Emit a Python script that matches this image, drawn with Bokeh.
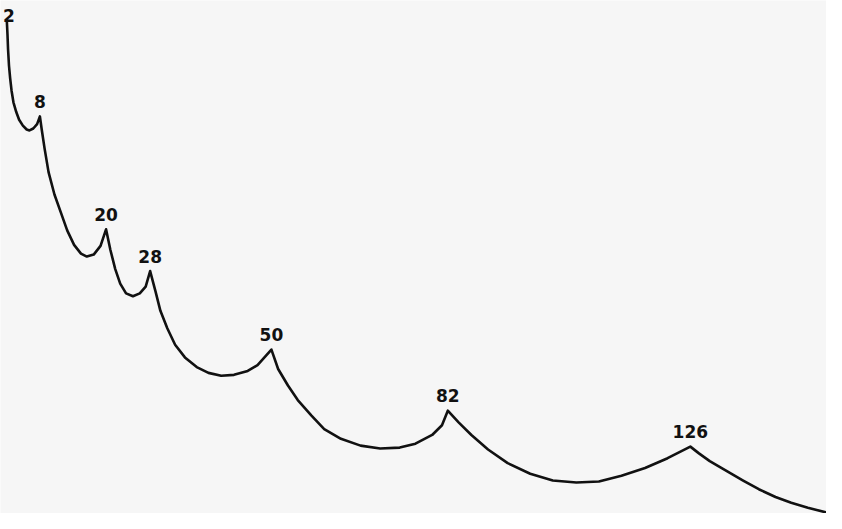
from bokeh.plotting import figure
from bokeh.models import Range1d, ColumnDataSource
from bokeh.core.properties import value
from bokeh.embed import file_html
from bokeh.resources import INLINE

# Neutron number (x) and relative quantity (y, arbitrary units)
neutron_number = [
    # 2 -> 8
    2.00, 2.12, 2.22, 2.39, 2.60, 2.86, 3.20, 3.71, 4.23, 4.91, 5.60, 6.11, 6.80, 7.49, 8,
    # 8 -> 20
    8.33, 8.86, 9.57, 10.64, 11.89, 12.95, 14.20, 15.45, 16.51, 17.76, 19.00, 20,
    # 20 -> 28
    20.78, 21.67, 22.57, 23.63, 24.88, 26.12, 27.19, 28,
    # 28 -> 50
    28.97, 29.86, 31.11, 32.53, 34.31, 36.45, 38.58, 40.89, 43.21, 45.70, 47.48, 48.90, 50,
    # 50 -> 82
    51.22, 53.00, 54.78, 57.27, 59.58, 62.61, 66.17, 69.73, 73.28, 76.13, 79.16, 80.94, 82,
    # 82 -> 126
    83.96, 86.28, 89.30, 92.86, 96.95, 101.05, 105.32, 109.41, 113.50, 117.78, 121.87, 126,
    # beyond 126
    127.56, 129.52, 132.55, 135.58, 138.42, 141.45, 144.30, 147.32, 150.70, 151.0,
]
energy = [
    9.603, 9.338, 9.055, 8.733, 8.488, 8.242, 8.015, 7.826, 7.675, 7.561, 7.486, 7.467, 7.505, 7.590, 7.741,
    7.486, 7.108, 6.654, 6.219, 5.841, 5.520, 5.236, 5.066, 5.009, 5.047, 5.217, 5.539,
    5.142, 4.764, 4.480, 4.291, 4.234, 4.291, 4.423, 4.726,
    4.329, 3.951, 3.611, 3.289, 3.043, 2.854, 2.741, 2.684, 2.703, 2.779, 2.892, 3.062, 3.195,
    2.817, 2.495, 2.212, 1.909, 1.645, 1.456, 1.323, 1.267, 1.285, 1.361, 1.531, 1.720, 2.004,
    1.777, 1.531, 1.248, 0.983, 0.775, 0.643, 0.605, 0.624, 0.737, 0.888, 1.078, 1.304,
    1.172, 1.021, 0.832, 0.643, 0.473, 0.321, 0.208, 0.113, 0.019, 0.0,
]

magic_numbers = [2, 8, 20, 28, 50, 82, 126]
magic_energy = [9.603, 7.741, 5.539, 4.726, 3.195, 2.004, 1.304]
magic_labels = ["2", "8", "20", "28", "50", "82", "126"]

BG = "#f6f6f6"

p = figure(
    width=826, height=513,
    x_range=Range1d(0.852, 150.70), y_range=Range1d(0, 10),
    output_backend="svg", toolbar_location=None,
    min_border=0, min_border_left=0, min_border_right=0,
    min_border_top=0, min_border_bottom=0,
    background_fill_color=BG, border_fill_color=BG,
)
p.axis.visible = False
p.grid.visible = False
p.outline_line_color = None

p.line(neutron_number, energy, line_color="#111111", line_width=2.6,
       line_join="round", line_cap="round")

# label placement offsets (the first label is kept inside the page edge)
x_off = [2, 0, 0, 0, 0, 0, 0]
y_off = [-5, -15, -15, -15, -15, -15, -15]

src = ColumnDataSource(dict(x=magic_numbers, y=magic_energy, t=magic_labels,
                            xo=x_off, yo=y_off))
p.text(x="x", y="y", text="t", source=src,
       text_font=value("DejaVu Sans"), text_font_style="bold",
       text_font_size="17px", text_color="#111111",
       text_align="center", text_baseline="alphabetic",
       x_offset="xo", y_offset="yo")

open("out.html", "w").write(file_html(p, INLINE))
